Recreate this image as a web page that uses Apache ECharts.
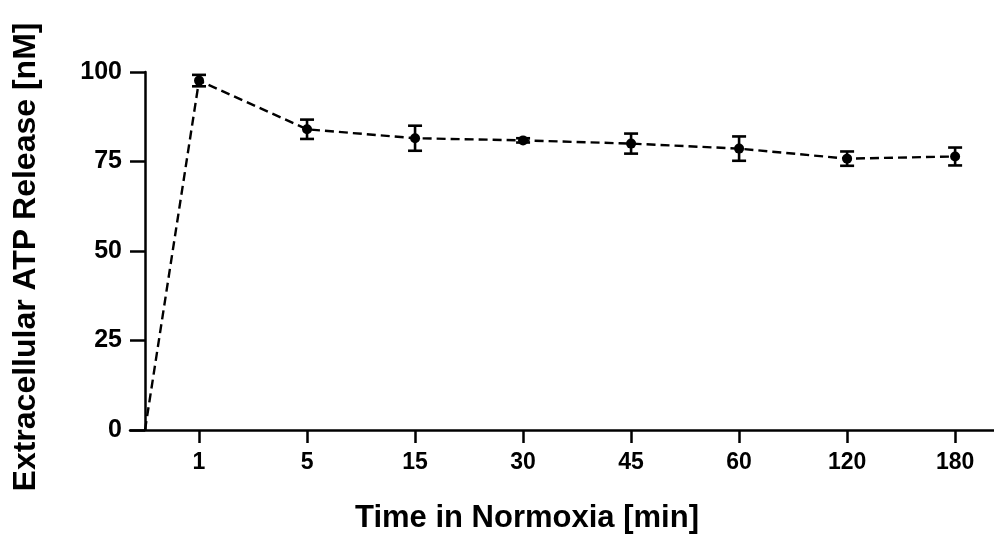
<!DOCTYPE html>
<html>
<head>
<meta charset="utf-8">
<script src="https://cdn.jsdelivr.net/npm/echarts@6/dist/echarts.min.js"></script>
<style>html,body{margin:0;padding:0;background:#fff;}#c{width:994px;height:538px;}</style>
</head>
<body>
<div id="c"></div>
<script>
var timeLabels = ['1', '5', '15', '30', '45', '60', '120', '180'];
var meanValues = [97.6, 84.0, 81.5, 80.9, 80.0, 78.6, 75.8, 76.4];
var errValues = [1.6, 2.7, 3.5, 0.6, 2.8, 3.4, 2.0, 2.5];
var startPoint = [0, 0];
var yTicks = [0, 25, 50, 75, 100];

var pos = timeLabels.map(function (t, i) { return i + 0.5; });
var lineData = [{ value: startPoint, symbol: 'none' }].concat(pos.map(function (p, i) { return [p, meanValues[i]]; }));
var errData = pos.map(function (p, i) { return [p, meanValues[i] - errValues[i], meanValues[i] + errValues[i]]; });

var chart = echarts.init(document.getElementById('c'));
var font = 'Liberation Sans, Arial, sans-serif';
chart.setOption({
  animation: false,
  grid: { left: 130, right: 0, top: 72, bottom: 108, outerBoundsMode: 'none', containLabel: false },
  xAxis: {
    type: 'value', min: -0.139, max: 7.86,
    name: 'Time in Normoxia [min]', nameLocation: 'middle', nameGap: 73,
    nameTextStyle: { fontFamily: font, fontWeight: 'bold', fontSize: 31, color: '#000', padding: [0, 70, 0, 0] },
    axisLine: { onZero: false, lineStyle: { color: '#000', width: 2.5 } },
    axisTick: { show: true, length: 13, lineStyle: { color: '#000', width: 2.5 }, customValues: pos },
    axisLabel: { customValues: pos, margin: 21, fontFamily: font, fontWeight: 'bold', fontSize: 23, color: '#000',
      formatter: function (v) { var i = Math.round(v - 0.5); return timeLabels[i] || ''; } },
    splitLine: { show: false }
  },
  yAxis: {
    type: 'value', min: 0, max: 100,
    name: 'Extracellular ATP Release [nM]', nameLocation: 'middle', nameGap: 88,
    nameTextStyle: { fontFamily: font, fontWeight: 'bold', fontSize: 32, color: '#000', padding: [0, 12, 0, 0] },
    axisLine: { show: true, onZero: true, lineStyle: { color: '#000', width: 2.5 } },
    axisTick: { show: true, length: 15, lineStyle: { color: '#000', width: 2.5 }, customValues: yTicks },
    axisLabel: { customValues: yTicks, margin: 8, fontFamily: font, fontWeight: 'bold', fontSize: 25, color: '#000' },
    splitLine: { show: false }
  },
  series: [
    {
      type: 'line', data: lineData, symbol: 'circle', symbolSize: 10,
      itemStyle: { color: '#000' },
      lineStyle: { color: '#000', width: 2.4, type: [9, 5] }
    },
    {
      type: 'custom', data: errData,
      renderItem: function (params, api) {
        var x = api.value(0);
        var lo = api.coord([x, api.value(1)]);
        var hi = api.coord([x, api.value(2)]);
        var hw = 7;
        var st = { stroke: '#000', lineWidth: 2.6 };
        return { type: 'group', children: [
          { type: 'line', shape: { x1: lo[0], y1: lo[1], x2: hi[0], y2: hi[1] }, style: st },
          { type: 'line', shape: { x1: lo[0] - hw, y1: lo[1], x2: lo[0] + hw, y2: lo[1] }, style: st },
          { type: 'line', shape: { x1: hi[0] - hw, y1: hi[1], x2: hi[0] + hw, y2: hi[1] }, style: st }
        ] };
      },
      z: 3
    }
  ]
});
</script>
</body>
</html>
